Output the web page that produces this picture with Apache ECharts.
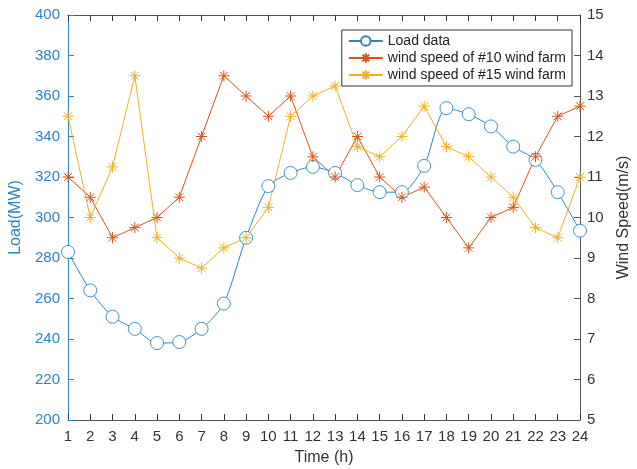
<!DOCTYPE html>
<html><head><meta charset="utf-8">
<script src="https://cdn.jsdelivr.net/npm/echarts@6/dist/echarts.min.js"></script>
<style>html,body{margin:0;padding:0;background:#fff}#c{width:637px;height:469px}</style>
</head><body><div id="c"></div>
<script>
const hours = ['1','2','3','4','5','6','7','8','9','10','11','12','13','14','15','16','17','18','19','20','21','22','23','24'];
const loadData = [283,264,251,245,238,238.5,245,257.5,290,315.5,322,325,322,316,312.5,312.5,325.5,354,351,345,335,328.5,312.5,293.5];
const wind10 = [11,10.5,9.5,9.75,10,10.5,12,13.5,13,12.5,13,11.5,11,12,11,10.5,10.75,10,9.25,10,10.25,11.5,12.5,12.75];
const wind15 = [12.5,10,11.25,13.5,9.5,9,8.75,9.25,9.5,10.25,12.5,13,13.25,11.75,11.5,12,12.75,11.75,11.5,11,10.5,9.75,9.5,11];

const blue = '#2a87c4', red = '#D95319', yellow = '#EDB120';
const axisBlue = '#2a85c0', gray = '#555555';
const font = 'Liberation Sans, Arial, sans-serif';
const star = 'path://M0,-10L0,10M-10,0L10,0M-7,-7L7,7M-7,7L7,-7';

const chart = echarts.init(document.getElementById('c'));
chart.setOption({
  animation: false,
  grid: {left: 68, right: 57, top: 15, bottom: 49, outerBoundsMode: 'none', containLabel: false},
  legend: {
    right: 65, top: 30, orient: 'vertical', itemGap: 3, itemWidth: 34, itemHeight: 12,
    borderColor: '#333', borderWidth: 1, padding: [4, 6, 4, 6], backgroundColor: '#fff',
    textStyle: {fontFamily: font, fontSize: 14, color: '#222'},
    data: ['Load data', 'wind speed of #10 wind farm', 'wind speed of #15 wind farm']
  },
  xAxis: [{
    type: 'category', data: hours, boundaryGap: false,
    name: 'Time (h)', nameLocation: 'middle', nameGap: 30,
    nameTextStyle: {fontFamily: font, fontSize: 16, color: '#333'},
    axisLine: {lineStyle: {color: gray}},
    axisTick: {inside: true, length: 6, lineStyle: {color: '#333'}},
    axisLabel: {fontFamily: font, fontSize: 15, color: '#333', margin: 9},
    splitLine: {show: false}
  }, {
    type: 'category', data: hours, boundaryGap: false, position: 'top',
    axisLine: {lineStyle: {color: gray}},
    axisTick: {inside: true, length: 6, lineStyle: {color: '#333'}},
    axisLabel: {show: false}, splitLine: {show: false}
  }],
  yAxis: [{
    type: 'value', min: 200, max: 400, interval: 20,
    name: 'Load(MW)', nameLocation: 'middle', nameGap: 39,
    nameTextStyle: {fontFamily: font, fontSize: 16, color: axisBlue},
    axisLine: {show: true, lineStyle: {color: axisBlue}},
    axisTick: {show: true, inside: true, length: 6, lineStyle: {color: axisBlue}},
    axisLabel: {fontFamily: font, fontSize: 15, color: axisBlue, margin: 8},
    splitLine: {show: false}
  }, {
    type: 'value', min: 5, max: 15, interval: 1, position: 'right',
    name: 'Wind Speed(m/s)', nameLocation: 'middle', nameGap: 36, nameRotate: 90,
    nameTextStyle: {fontFamily: font, fontSize: 16, color: '#333'},
    axisLine: {show: true, lineStyle: {color: gray}},
    axisTick: {show: true, inside: true, length: 6, lineStyle: {color: gray}},
    axisLabel: {fontFamily: font, fontSize: 15, color: '#333', margin: 7},
    splitLine: {show: false}
  }],
  series: [{
    name: 'Load data', type: 'line', data: loadData, yAxisIndex: 0, smooth: 0.25,
    symbol: 'circle', symbolSize: 13,
    lineStyle: {color: blue, width: 1},
    itemStyle: {color: '#fff', borderColor: blue, borderWidth: 0.9}
  }, {
    name: 'wind speed of #10 wind farm', type: 'line', data: wind10, yAxisIndex: 1,
    symbol: star, symbolSize: 11,
    lineStyle: {color: red, width: 1},
    itemStyle: {color: red, borderColor: red, borderWidth: 1}
  }, {
    name: 'wind speed of #15 wind farm', type: 'line', data: wind15, yAxisIndex: 1,
    symbol: star, symbolSize: 11,
    lineStyle: {color: yellow, width: 1},
    itemStyle: {color: yellow, borderColor: yellow, borderWidth: 1}
  }]
});
</script></body></html>
